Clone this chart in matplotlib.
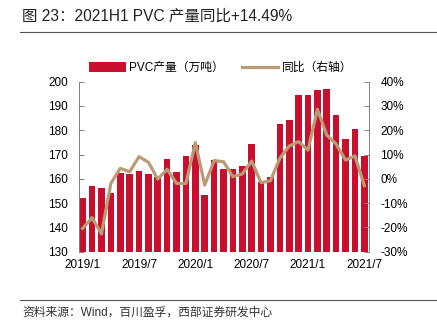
import matplotlib
matplotlib.use("Agg")
import matplotlib.pyplot as plt
import numpy as np

plt.rcParams['font.family'] = ['Liberation Sans', 'Noto Sans CJK SC']

months = ['2019/1', '2019/2', '2019/3', '2019/4', '2019/5', '2019/6', '2019/7', '2019/8',
          '2019/9', '2019/10', '2019/11', '2019/12', '2020/1', '2020/2', '2020/3', '2020/4',
          '2020/5', '2020/6', '2020/7', '2020/8', '2020/9', '2020/10', '2020/11', '2020/12',
          '2021/1', '2021/2', '2021/3', '2021/4', '2021/5', '2021/6', '2021/7']
production = [152.2, 157.2, 156.2, 154.1, 162.5, 162.0, 163.3, 162.0, 160.6, 168.1, 162.6,
              169.5, 173.8, 153.3, 167.7, 164.0, 164.0, 165.4, 174.3, 158.5, 160.6, 182.4,
              184.2, 194.5, 194.5, 196.5, 196.9, 186.2, 176.2, 180.5, 169.5]
yoy = [-20.4, -16.0, -22.7, -1.9, 4.3, 2.9, 9.1, 6.8, -0.1, 3.9, -1.9, -1.9, 14.9, -2.6,
       7.5, 7.0, 0.9, 2.0, 7.3, -1.6, -0.8, 8.4, 13.5, 15.3, 11.8, 28.6, 18.0, 14.3, 7.7,
       9.4, -2.8]
tick_labels = ['2019/1', '2019/7', '2020/1', '2020/7', '2021/1', '2021/7']

bar_color = '#C8102E'
line_color = '#B99B76'

W, H = 437, 335
fig = plt.figure(figsize=(W / 100, H / 100), dpi=100)
ax = fig.add_axes([79.3 / W, 1 - 251.7 / H, (369.3 - 79.3) / W, (251.7 - 81.6) / H])
ax2 = ax.twinx()

x = np.arange(len(months))
b = ax.bar(x, production, width=0.7, color=bar_color, label='PVC产量（万吨）', zorder=2)
l, = ax2.plot(x, yoy, color=line_color, lw=2.3, label='同比（右轴）', zorder=3)

ax.set_ylim(130, 200)
ax.set_yticks(np.arange(130, 201, 10))
ax2.set_ylim(-30, 40)
ax2.set_yticks(np.arange(-30, 41, 10))
ax2.set_yticklabels([f'{v}%' for v in range(-30, 41, 10)])
ax.set_xlim(-0.36, 30.53)
ax.set_xticks([months.index(t) for t in tick_labels])
ax.set_xticklabels(tick_labels)

for a in (ax, ax2):
    a.spines['top'].set_visible(False)
    a.spines['bottom'].set_visible(False)
    a.spines['left'].set_color('#808080')
    a.spines['right'].set_color('#808080')
    a.spines['left'].set_linewidth(0.7)
    a.spines['right'].set_linewidth(0.7)
    a.tick_params(axis='y', direction='in', length=3.5, width=0.7, color='#808080',
                  labelsize=8.5, pad=8)
ax.tick_params(axis='x', length=0, labelsize=8.5, pad=5)
ax2.spines['left'].set_visible(False)
ax.spines['right'].set_visible(False)

ax.patch.set_visible(False)
ax.set_zorder(ax2.get_zorder() - 1)
ax2.patch.set_visible(False)

fig.legend([b, l], ['PVC产量（万吨）', '同比（右轴）'], loc='center left',
           bbox_to_anchor=(89 / W, 1 - 68 / H), ncol=2, frameon=False, fontsize=8.5,
           handlelength=3.1, handleheight=0.9, columnspacing=1.5, handletextpad=0.3,
           borderaxespad=0, borderpad=0)

fig.text(22 / W, 1 - 16 / H, '图 23：2021H1 PVC 产量同比+14.49%', fontsize=11.2,
         va='center', ha='left', color='#222222')
fig.add_artist(plt.Line2D([20 / W, 1], [1 - 32.3 / H, 1 - 32.3 / H], color='#555555', lw=0.8))
fig.add_artist(plt.Line2D([20 / W, 1], [1 - 300 / H, 1 - 300 / H], color='#555555', lw=0.8))
fig.text(22 / W, 1 - 313 / H, '资料来源：Wind，百川盈孚，西部证券研发中心', fontsize=8.5,
         va='center', ha='left', color='#333333')

fig.savefig('out.png', dpi=100)
